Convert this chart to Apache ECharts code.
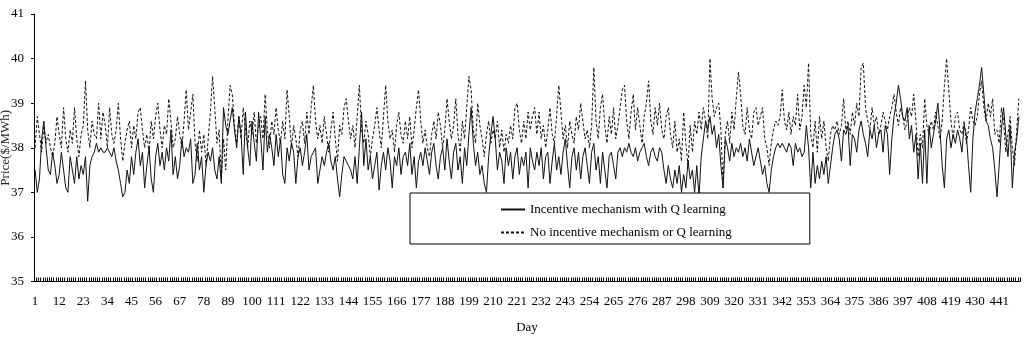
<!DOCTYPE html>
<html>
<head>
<meta charset="utf-8">
<script src="https://cdn.jsdelivr.net/npm/echarts@6/dist/echarts.min.js"></script>
<style>html,body{margin:0;padding:0;background:#fff;}#c{width:1024px;height:339px;}</style>
</head>
<body>
<div id="c"></div>
<script>
var seriesNames = ["Incentive mechanism with Q learning", "No incentive mechanism or Q learning"];
var yTicks = [35, 36, 37, 38, 39, 40, 41];
var days = [];
for (var i = 1; i <= 450; i++) days.push(String(i));

var withQ = [
37.5,37.0,37.3,38.2,38.6,38.0,37.5,37.4,37.9,37.6,
37.2,37.4,37.9,37.5,37.1,37.0,37.8,37.5,37.2,37.8,
37.3,37.6,37.4,37.8,36.8,37.6,37.8,37.9,38.1,37.9,
38.0,37.9,37.9,38.0,37.9,37.8,38.0,37.7,37.5,37.2,
36.9,37.0,37.5,37.2,37.8,37.4,37.9,38.2,37.6,37.9,
37.1,37.6,38.0,37.3,37.0,37.8,38.1,37.6,37.9,37.5,
38.0,37.7,38.4,37.4,37.8,37.3,37.6,38.2,37.8,38.0,
37.9,38.2,37.2,37.4,38.1,37.5,37.8,37.0,37.6,37.9,
37.7,38.0,37.5,37.3,37.8,37.2,38.9,38.5,38.3,38.6,
38.9,38.4,38.0,38.7,38.3,37.4,38.8,38.0,37.6,38.6,
38.1,37.7,38.8,38.2,37.5,38.7,37.9,38.3,38.0,37.6,
38.3,37.8,38.2,37.4,37.2,38.0,37.7,38.1,37.9,37.2,
37.8,38.0,37.6,37.9,38.3,37.5,37.8,37.9,38.0,37.2,
37.5,37.8,37.6,37.9,38.1,37.7,37.5,37.8,37.3,36.9,
37.4,37.8,37.7,37.6,37.5,37.3,37.8,37.2,38.0,38.8,
37.6,38.2,37.5,37.8,37.3,37.6,37.9,37.05,37.6,37.9,
37.5,38.0,37.7,37.1,37.8,37.6,38.0,37.4,37.8,37.9,
37.6,38.1,37.4,37.8,37.1,37.7,37.9,37.6,38.0,37.7,
37.4,37.9,38.1,37.6,37.3,37.8,38.0,37.5,38.2,37.7,
37.3,37.9,38.1,37.5,37.8,37.2,38.0,37.6,38.3,38.9,
38.1,37.6,37.9,37.4,37.6,37.2,37.0,37.8,38.3,38.7,
38.2,37.5,37.9,37.7,37.2,38.0,37.6,37.9,37.3,37.8,
38.0,37.4,37.8,37.6,37.9,37.1,38.0,37.7,37.5,37.9,
37.6,38.0,37.3,37.8,37.9,37.2,37.7,38.1,37.5,37.8,
37.4,37.9,38.2,37.6,37.1,37.8,38.0,37.5,37.9,37.3,
37.8,38.0,37.6,37.2,37.9,38.1,37.5,37.8,37.2,37.9,
37.5,37.1,37.8,37.9,37.6,37.3,37.9,38.0,37.8,38.0,
37.9,38.1,37.9,37.8,38.0,37.7,37.9,38.0,38.1,37.8,
37.6,37.9,38.0,37.8,37.7,38.0,37.9,37.5,37.2,37.6,
37.3,37.1,37.5,37.2,37.6,37.0,37.4,37.1,37.7,37.3,
37.5,37.0,37.6,36.9,37.8,38.2,38.6,38.4,38.7,38.3,
38.5,38.0,38.3,37.6,37.1,38.2,38.0,37.7,38.1,37.8,
38.0,37.9,38.1,37.8,38.0,37.7,38.2,37.9,37.6,37.8,
38.0,37.7,37.4,37.6,37.2,37.0,37.5,37.8,38.0,38.1,
38.0,38.1,38.0,37.9,38.1,38.0,37.6,38.1,37.9,38.0,
37.8,37.9,38.5,38.0,37.1,37.9,37.2,37.6,37.3,37.7,
37.4,37.8,37.2,37.6,38.0,38.3,38.4,38.2,37.7,38.4,
38.3,38.5,37.6,38.3,38.2,37.9,38.4,38.6,38.3,38.1,
37.8,38.4,38.2,38.5,38.0,38.3,38.4,37.9,38.5,38.3,
37.4,38.2,38.7,39.0,39.4,39.1,38.7,38.6,38.9,38.2,
38.5,37.9,38.3,37.3,38.1,37.2,38.4,37.2,38.5,38.0,
38.3,38.6,39.0,38.4,37.6,37.1,38.2,38.4,38.0,38.3,
38.1,38.4,38.2,37.9,38.5,38.3,37.6,37.0,38.2,38.8,
39.1,39.4,39.8,39.2,38.6,38.5,38.2,38.0,37.5,36.9,
37.6,38.4,38.9,38.3,37.8,38.5,37.1,37.9,38.2,38.7
];

var noIncentive = [
38.0,38.7,38.3,37.9,38.5,38.1,38.3,38.0,37.8,38.1,
38.7,38.3,38.0,38.9,38.2,37.9,38.4,38.1,38.9,38.2,
37.8,38.3,38.5,39.5,38.4,38.0,38.6,38.3,38.2,39.0,
38.2,38.8,38.5,38.0,38.9,38.3,38.1,38.4,39.0,38.2,
37.7,38.1,38.4,38.6,38.0,38.5,38.2,38.8,38.9,38.4,
38.0,38.3,37.9,38.6,38.2,38.7,39.0,38.4,38.0,38.5,
38.3,39.1,38.6,38.0,38.2,38.7,38.3,38.0,38.6,39.3,
38.4,38.8,39.2,38.1,37.7,38.4,37.9,38.3,37.6,38.2,
38.8,39.6,38.9,38.1,38.4,37.3,38.2,37.5,38.6,39.4,
39.2,38.5,38.1,38.7,38.2,38.9,38.4,38.0,38.6,38.3,
38.8,38.1,38.5,38.7,38.2,39.2,38.4,38.0,38.6,38.3,
38.9,38.4,38.1,38.6,38.2,39.3,38.7,38.0,38.5,38.2,
37.8,38.4,38.6,38.1,38.8,38.3,38.9,39.4,38.6,38.2,
38.5,38.1,38.7,38.3,37.9,38.4,38.8,38.2,37.7,38.5,
38.3,38.9,39.1,38.6,38.2,38.5,38.0,38.7,39.4,38.4,
38.1,38.6,38.3,37.8,38.2,38.5,38.9,38.4,38.0,38.7,
39.4,38.6,38.2,38.4,37.9,38.5,38.8,38.3,38.1,38.6,
38.2,38.7,38.0,38.4,38.9,39.3,38.6,38.1,38.4,38.0,
37.8,38.3,38.6,38.2,38.8,38.5,38.0,38.4,39.1,38.6,
38.2,38.5,39.1,38.3,37.9,38.6,38.2,38.9,39.6,39.3,
38.4,38.1,39.0,38.5,38.2,37.8,38.3,38.6,38.1,38.4,
38.2,38.6,38.0,38.4,37.9,38.3,38.1,38.5,38.2,38.9,
39.0,38.4,38.1,38.6,38.2,38.8,38.4,38.7,38.9,38.3,
38.8,38.2,38.5,38.0,38.4,38.9,38.3,38.1,38.7,39.4,
38.8,38.2,38.5,38.0,38.6,38.3,38.1,38.7,38.4,39.0,
38.6,38.2,38.4,38.0,38.5,39.8,38.6,38.2,38.9,39.2,
38.5,38.1,38.7,38.3,38.9,38.2,38.5,38.9,39.3,39.4,
38.6,38.2,38.8,39.2,38.4,38.9,38.5,38.1,38.7,39.0,
39.5,38.6,38.3,38.9,38.5,39.0,38.4,38.2,38.7,38.9,
38.3,38.0,38.6,37.9,38.2,37.7,38.8,38.1,37.6,38.5,
37.9,38.6,38.3,38.8,38.4,38.9,38.6,38.2,40.0,39.1,
38.7,38.9,39.0,38.4,37.1,38.3,38.6,38.1,38.8,38.4,
39.1,39.7,39.2,38.5,38.3,38.9,38.4,38.2,38.8,38.9,
38.5,38.7,38.9,38.2,38.0,37.6,38.1,38.4,38.6,38.5,
38.7,39.3,38.6,38.4,38.8,38.3,38.7,38.5,39.2,38.4,
38.7,39.4,38.9,39.9,38.3,38.0,38.6,37.9,38.7,38.2,
38.6,38.0,37.7,38.3,38.5,38.4,38.6,38.3,38.5,39.1,
38.4,38.6,38.3,38.8,38.5,39.0,38.7,39.8,39.9,38.9,
38.6,38.4,38.9,38.5,38.7,38.3,38.5,38.8,38.6,38.4,
38.7,38.9,39.2,38.8,38.5,38.9,38.7,38.4,38.6,38.9,
38.7,39.2,38.6,37.8,38.3,38.0,39.1,38.5,38.3,38.6,
38.4,38.8,38.5,38.2,38.6,39.4,40.0,39.3,38.6,38.2,
38.7,38.8,38.4,38.3,38.6,38.1,38.4,38.9,38.6,38.5,
38.7,39.2,39.5,38.9,38.6,39.0,38.7,39.1,38.3,38.4,
38.1,38.9,38.6,37.9,38.3,38.7,38.0,37.6,38.4,39.1
];

var serif = '"Liberation Serif", "DejaVu Serif", serif';
var chart = echarts.init(document.getElementById('c'), null, {renderer: 'canvas'});
chart.setOption({
  animation: false,
  backgroundColor: '#fff',
  grid: {left: 34, right: 4, top: 14, bottom: 57.5, containLabel: false, outerBoundsMode: 'none'},
  legend: {
    orient: 'vertical',
    left: 410, top: 193,
    padding: [10, 78, 5, 90],
    itemWidth: 24, itemHeight: 10, itemGap: 10,
    borderColor: '#000', borderWidth: 1, borderRadius: 0,
    backgroundColor: '#fff',
    itemStyle: {color: 'rgba(0,0,0,0)', borderColor: 'rgba(0,0,0,0)', borderWidth: 0, opacity: 0},
    textStyle: {fontFamily: serif, fontSize: 13, color: '#000'},
    data: seriesNames
  },
  xAxis: {
    type: 'category',
    data: days,
    boundaryGap: true,
    name: 'Day',
    nameLocation: 'middle',
    nameGap: 40,
    nameTextStyle: {fontFamily: serif, fontSize: 13, color: '#000'},
    axisLine: {lineStyle: {color: '#000', width: 1}},
    axisTick: {show: true, interval: 0, inside: true, length: 4, lineStyle: {color: '#000', width: 1}},
    axisLabel: {interval: 10, fontFamily: serif, fontSize: 13, color: '#000', margin: 14},
    splitLine: {show: false}
  },
  yAxis: {
    type: 'value',
    min: 35, max: 41, interval: 1,
    name: 'Price($/MWh)',
    nameLocation: 'middle',
    nameGap: 22,
    nameMoveOverlap: false,
    nameTextStyle: {fontFamily: serif, fontSize: 13, color: '#222'},
    axisLine: {show: true, lineStyle: {color: '#000', width: 1}},
    axisTick: {show: true, length: 3, lineStyle: {color: '#000'}},
    axisLabel: {fontFamily: serif, fontSize: 13, color: '#000', margin: 10,
      formatter: function (v) { return yTicks.indexOf(v) >= 0 ? String(v) : ''; }},
    splitLine: {show: false}
  },
  series: [
    {name: seriesNames[0], type: 'line', data: withQ, symbol: 'none', showSymbol: false,
     lineStyle: {color: '#111', width: 1, type: 'solid'}, itemStyle: {color: '#111'}, z: 3},
    {name: seriesNames[1], type: 'line', data: noIncentive, symbol: 'none', showSymbol: false,
     lineStyle: {color: '#111', width: 1, type: [3, 2]}, itemStyle: {color: '#111'}, z: 2}
  ]
});
</script>
</body>
</html>
